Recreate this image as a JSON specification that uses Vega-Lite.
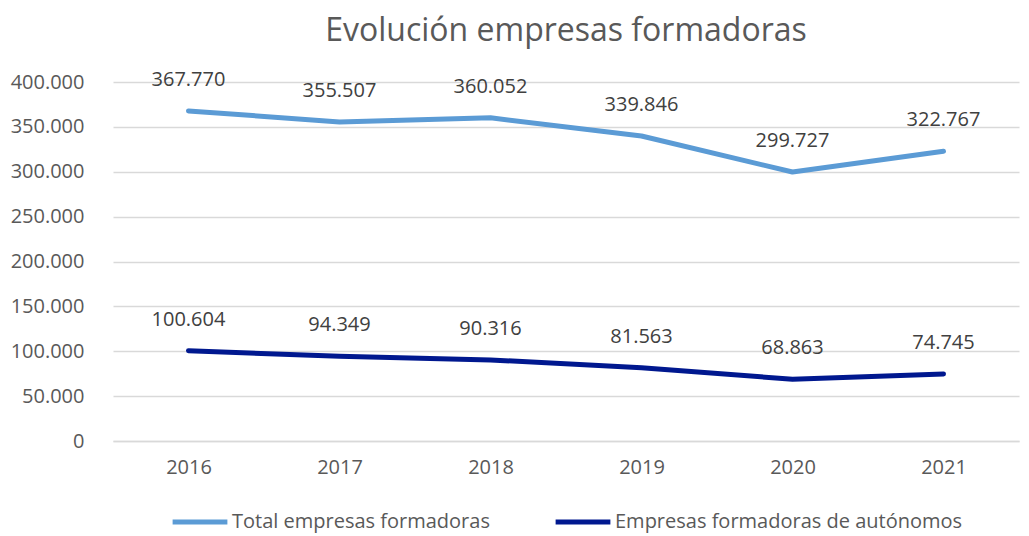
{
  "$schema": "https://vega.github.io/schema/vega-lite/v6.json",
  "autosize": {"type": "fit", "contains": "padding"},
  "width": 1029,
  "height": 536,
  "padding": {"left": 10, "right": 10, "top": 17, "bottom": 4},
  "title": {
    "text": "Evolución empresas formadoras",
    "fontSize": 32,
    "font": "Open Sans",
    "fontWeight": "normal",
    "color": "#595959",
    "offset": 22
  },
  "config": {
    "locale": {"number": {"decimal": ",", "thousands": ".", "grouping": [3], "currency": ["", " €"]}},
    "view": {"stroke": null},
    "font": "Open Sans",
    "legend": {"layout": {"bottom": {"anchor": "middle"}}}
  },
  "data": {
    "values": [
      {"year": "2016", "serie": "Total empresas formadoras", "value": 367770},
      {"year": "2017", "serie": "Total empresas formadoras", "value": 355507},
      {"year": "2018", "serie": "Total empresas formadoras", "value": 360052},
      {"year": "2019", "serie": "Total empresas formadoras", "value": 339846},
      {"year": "2020", "serie": "Total empresas formadoras", "value": 299727},
      {"year": "2021", "serie": "Total empresas formadoras", "value": 322767},
      {"year": "2016", "serie": "Empresas formadoras de autónomos", "value": 100604},
      {"year": "2017", "serie": "Empresas formadoras de autónomos", "value": 94349},
      {"year": "2018", "serie": "Empresas formadoras de autónomos", "value": 90316},
      {"year": "2019", "serie": "Empresas formadoras de autónomos", "value": 81563},
      {"year": "2020", "serie": "Empresas formadoras de autónomos", "value": 68863},
      {"year": "2021", "serie": "Empresas formadoras de autónomos", "value": 74745}
    ]
  },
  "encoding": {
    "x": {
      "field": "year",
      "type": "ordinal",
      "title": null,
      "scale": {"paddingInner": 0, "paddingOuter": 0},
      "axis": {
        "labelAngle": 0,
        "labelFontSize": 20,
        "labelColor": "#595959",
        "labelPadding": 16,
        "ticks": false,
        "domainColor": "#d9d9d9",
        "domainWidth": 1.5,
        "grid": false
      }
    },
    "y": {
      "field": "value",
      "type": "quantitative",
      "title": null,
      "scale": {"domain": [0, 400000]},
      "axis": {
        "values": [0, 50000, 100000, 150000, 200000, 250000, 300000, 350000, 400000],
        "format": ",.0f",
        "labelFontSize": 20,
        "labelColor": "#595959",
        "labelPadding": 29,
        "ticks": false,
        "domain": false,
        "gridColor": "#d9d9d9",
        "gridWidth": 1.5
      }
    }
  },
  "layer": [
    {
      "mark": {"type": "line", "strokeWidth": 5, "strokeCap": "round", "strokeJoin": "round"},
      "encoding": {
        "color": {
          "field": "serie",
          "type": "nominal",
          "scale": {
            "domain": ["Total empresas formadoras", "Empresas formadoras de autónomos"],
            "range": ["#5b9bd5", "#00188f"]
          },
          "legend": {
            "title": null,
            "orient": "bottom",
            "direction": "horizontal",
            "symbolType": "stroke",
            "symbolSize": 3000,
            "symbolStrokeWidth": 5,
            "labelFontSize": 20,
            "labelColor": "#595959",
            "labelOffset": 2,
            "columnPadding": 55,
            "offset": 15,
            "labelLimit": 500
          }
        }
      }
    },
    {
      "mark": {"type": "text", "dy": -31, "fontSize": 20, "color": "#404040"},
      "encoding": {
        "text": {"field": "value", "type": "quantitative", "format": ",.0f"}
      }
    }
  ]
}
